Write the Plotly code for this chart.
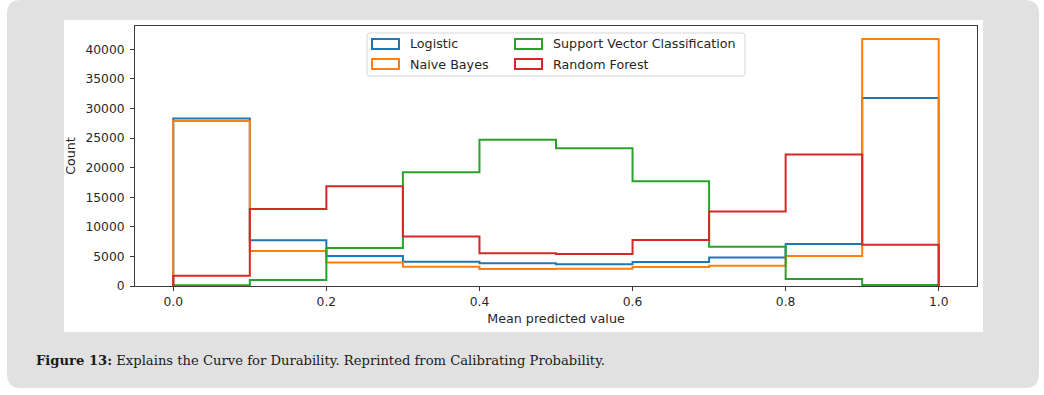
import plotly.graph_objects as go

# ---- data -------------------------------------------------------------
bin_edges = [0.0, 0.1, 0.2, 0.3, 0.4, 0.5, 0.6, 0.7, 0.8, 0.9, 1.0]
series_names = ["Logistic", "Naive Bayes", "Support Vector Classification", "Random Forest"]
logistic = [28300, 7730, 5080, 4120, 3840, 3680, 4060, 4800, 7110, 31770]
naive_bayes = [27900, 5925, 3980, 3270, 2880, 2930, 3220, 3440, 5080, 41750]
svc = [120, 1015, 6430, 19240, 24710, 23300, 17720, 6650, 1185, 170]
random_forest = [1740, 13030, 16870, 8350, 5530, 5390, 7790, 12580, 22230, 6990]
x_ticks = [0.0, 0.2, 0.4, 0.6, 0.8, 1.0]
y_ticks = [0, 5000, 10000, 15000, 20000, 25000, 30000, 35000, 40000]
caption = "<b>Figure 13:</b> Explains the Curve for Durability. Reprinted from Calibrating Probability."

colors = ["#1f77b4", "#ff7f0e", "#2ca02c", "#d62728"]
values = [logistic, naive_bayes, svc, random_forest]

# ---- layout geometry (pixels) -----------------------------------------
FW, FH = 1044, 395
L, R, T, B = 135, 977, 26, 286
PW, PH = R - L, B - T


def px(x):
    return (x - L) / PW


def py(y):
    return (B - y) / PH


def rounded_path(x0, y0, x1, y1, r):
    pts = [
        ("M", [(x0 + r, y0)]),
        ("L", [(x1 - r, y0)]),
        ("Q", [(x1, y0), (x1, y0 + r)]),
        ("L", [(x1, y1 - r)]),
        ("Q", [(x1, y1), (x1 - r, y1)]),
        ("L", [(x0 + r, y1)]),
        ("Q", [(x0, y1), (x0, y1 - r)]),
        ("L", [(x0, y0 + r)]),
        ("Q", [(x0, y0), (x0 + r, y0)]),
    ]
    s = ""
    for cmd, ps in pts:
        s += cmd + " ".join(f"{px(a):.5f},{py(b):.5f}" for a, b in ps) + " "
    return s + "Z"


fig = go.Figure()

for name, vals, col in zip(series_names, values, colors):
    xs = [bin_edges[0]] + bin_edges[:-1] + [bin_edges[-1], bin_edges[-1]]
    ys = [0] + vals + [vals[-1], 0]
    fig.add_trace(go.Scatter(
        x=xs, y=ys, mode="lines", name=name,
        line=dict(color=col, width=2, shape="hv"),
        showlegend=False, hoverinfo="skip",
    ))

shapes = []
# grey panel
shapes.append(dict(type="path", xref="paper", yref="paper", layer="below",
                   path=rounded_path(7, 0, 1039, 388, 14),
                   fillcolor="#e1e1e1", line=dict(width=0)))
# white figure area
shapes.append(dict(type="rect", xref="paper", yref="paper", layer="below",
                   x0=px(64), x1=px(983), y0=py(332), y1=py(20),
                   fillcolor="white", line=dict(width=0)))
# legend frame
shapes.append(dict(type="path", xref="paper", yref="paper", layer="above",
                   path=rounded_path(367, 33, 745, 76, 3),
                   fillcolor="rgba(255,255,255,0.8)", line=dict(color="#d6d6d6", width=1)))

annotations = []
legend_pos = [(372, 44), (372, 64), (515, 44), (515, 64)]
for name, col, (lx, ly) in zip(series_names, colors, legend_pos):
    shapes.append(dict(type="rect", xref="paper", yref="paper", layer="above",
                       x0=px(lx), x1=px(lx + 27), y0=py(ly + 5), y1=py(ly - 5),
                       fillcolor="rgba(0,0,0,0)", line=dict(color=col, width=2)))
    annotations.append(dict(xref="paper", yref="paper", x=px(lx + 36), y=py(ly),
                            xanchor="left", yanchor="middle", showarrow=False,
                            text=name, font=dict(family="DejaVu Sans", size=12.7, color="#262626")))

annotations.append(dict(xref="paper", yref="paper", x=px(34), y=py(361),
                        xanchor="left", yanchor="middle", showarrow=False,
                        text=caption, font=dict(family="DejaVu Serif", size=13.15, color="#1a1a1a")))

axis_common = dict(showline=True, mirror=True, linecolor="#3a3a3a", linewidth=1,
                   showgrid=False, zeroline=False, ticks="outside", ticklen=4,
                   tickcolor="#3a3a3a", tickwidth=1,
                   tickfont=dict(family="DejaVu Sans", size=12.3, color="#262626"))

fig.update_layout(
    width=FW, height=FH,
    margin=dict(l=L, r=FW - R, t=T, b=FH - B, pad=0),
    paper_bgcolor="white", plot_bgcolor="rgba(0,0,0,0)",
    shapes=shapes, annotations=annotations, showlegend=False,
    xaxis=dict(range=[-0.05, 1.05], tickvals=x_ticks, tickformat=".1f",
               title=dict(text="Mean predicted value", standoff=6,
                          font=dict(family="DejaVu Sans", size=12.7, color="#262626")),
               **axis_common),
    yaxis=dict(range=[0, 43960], tickvals=y_ticks, tickformat="d", ticklabelstandoff=3,
               title=dict(text="Count", standoff=6,
                          font=dict(family="DejaVu Sans", size=12.7, color="#262626")),
               **axis_common),
)

fig.write_html("out.html",
               config={"displayModeBar": False},
               post_script="document.body.style.margin='0';document.body.style.overflow='hidden';")
